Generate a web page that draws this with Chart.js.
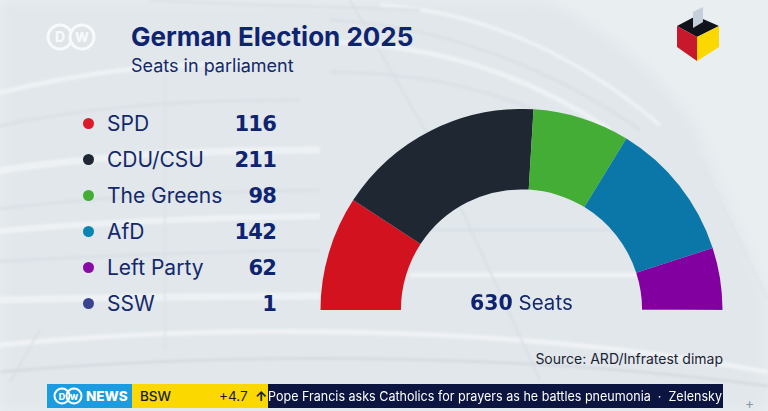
<!DOCTYPE html>
<html>
<head>
<meta charset="utf-8">
<script src="https://cdn.jsdelivr.net/npm/chart.js@4"></script>
<style>
  html, body { margin: 0; padding: 0; }
  body { width: 768px; height: 411px; overflow: hidden; position: relative; background: #e9eef1; font-family: Inter, "Noto Sans", sans-serif; color: #14296b; }
  #bg { position: absolute; left: 0; top: 0; }
  .abs { position: absolute; white-space: nowrap; }
  #chartBox { position: absolute; left: 320px; top: 109px; width: 403px; height: 201px; }
  .row { position: absolute; left: 83px; width: 193px; height: 36px; line-height: 36px; font-size: 21px; }
  .row i { position: absolute; left: 0; top: 12px; width: 11px; height: 11px; border-radius: 50%; }
  .row span { position: absolute; left: 24px; }
  .row b { position: absolute; right: 0; font-family: "DejaVu Sans"; font-size: 21px; letter-spacing: -.8px; font-weight: 700; color: #0f2470; }
</style>
</head>
<body>
<svg id="bg" width="768" height="411" fill="none">
  <defs>
    <filter id="soft"><feGaussianBlur stdDeviation="1.2"/></filter>
    <filter id="softer"><feGaussianBlur stdDeviation="7"/></filter>
  </defs>
  <path d="M0 0 H545 C 610 30 660 75 695 125 L 768 300 V411 H0 Z" fill="#e1e7eb" filter="url(#softer)"/>
  <g id="streaks" filter="url(#soft)" opacity=".75"></g>
</svg>

<svg class="abs" style="left:44px;top:20px" width="54" height="34">
  <g fill="#dfe4e9" stroke="#f7f9fa" stroke-width="3">
    <circle cx="16" cy="17" r="12"/><circle cx="38" cy="17" r="12"/>
  </g>
  <text x="16" y="22" text-anchor="middle" font-family="Inter" font-weight="800" font-size="14" fill="#f7f9fa">D</text>
  <text x="38" y="22" text-anchor="middle" font-family="Inter" font-weight="800" font-size="13" fill="#f7f9fa">W</text>
</svg>

<div class="abs" style="left:131px;top:21px;font-size:26px;line-height:32px;font-weight:700;color:#0f2470">German Election 2025</div>
<div class="abs" style="left:131px;top:54px;font-size:18px;line-height:24px">Seats in parliament</div>

<svg class="abs" style="left:670px;top:0" width="56" height="66">
  <polygon points="7,26 26,16 49,26 27,37" fill="#10131c"/>
  <polygon points="7,26 27,37 27,61 7,47" fill="#c8182c"/>
  <polygon points="27,37 49,26 49,47 27,61" fill="#fbd800"/>
  <polygon points="23,12 33,7 33,22 23,28" fill="#c5cfd9"/>
</svg>

<div id="legend"></div>

<div id="chartBox"><canvas id="seats"></canvas></div>

<div class="abs" style="left:470px;top:290px;font-size:20.5px;line-height:26px"><b style="font-family:'DejaVu Sans';font-weight:700;color:#0f2470">630</b> Seats</div>
<div class="abs" style="right:45px;top:349px;font-size:14px;line-height:20px;color:#1b2433">Source: ARD/Infratest dimap</div>

<div class="abs" style="left:47px;top:384px;width:676px;height:24px;background:#0c1440;overflow:hidden">
  <div class="abs" style="left:0;top:0;width:85px;height:24px;background:#1b9ce0"></div>
  <svg class="abs" style="left:6px;top:3px" width="32" height="18">
    <g fill="none" stroke="#fff" stroke-width="2"><circle cx="9" cy="9" r="7.5"/><circle cx="21" cy="9" r="7.5"/></g>
    <text x="9" y="12.5" text-anchor="middle" font-family="Inter" font-weight="800" font-size="9" fill="#fff">D</text>
    <text x="21" y="12.5" text-anchor="middle" font-family="Inter" font-weight="800" font-size="8" fill="#fff">W</text>
  </svg>
  <div class="abs" style="left:39px;top:0;color:#fff;font-weight:800;font-size:13.5px;line-height:24px">NEWS</div>
  <div class="abs" style="left:85px;top:0;width:136px;height:24px;background:#fbd800;color:#14202e;font-size:13.5px;line-height:24px">
    <span class="abs" style="left:8px;font-weight:500">BSW</span><span class="abs" style="left:87px">+4.7</span><span class="abs" style="left:123px;font-weight:700">↑</span>
  </div>
  <div class="abs" style="left:221px;top:0;color:#fff;font-size:13px;line-height:24px;transform:scaleX(.965);transform-origin:0 0">Pope Francis asks Catholics for prayers as he battles pneumonia &nbsp;·&nbsp; Zelensky</div>
</div>
<div class="abs" style="left:745px;top:394px;font-size:14px;line-height:18px;color:#8b96a3">+</div>

<script>
// seats per party, read from the graphic
const parties = ['SPD', 'CDU/CSU', 'The Greens', 'AfD', 'Left Party', 'SSW'];
const seats = [116, 211, 98, 142, 62, 1];
const colors = ['#d3121f', '#1f2733', '#43ad35', '#0a77a8', '#8300a0', '#38418f'];
const legendColors = ['#dc1a2a', '#1f2733', '#43ad35', '#0a84b3', '#8a0aa5', '#3a4390'];

// faint dome photo behind the chart, only a texture
const streakPaths = [
  ['M-10 95 C 90 70 170 62 260 64', '#f2f5f7', 5],
  ['M-10 128 C 80 108 170 100 300 100', '#d8dfe5', 3],
  ['M-10 172 C 80 158 170 150 320 150', '#f2f5f7', 7],
  ['M-10 210 C 90 198 180 192 320 190', '#d8dfe5', 3],
  ['M-10 232 C 90 222 190 218 320 216', '#f2f5f7', 6],
  ['M-10 262 C 90 256 190 252 320 250', '#d8dfe5', 3],
  ['M-10 300 C 90 298 190 296 320 296', '#f2f5f7', 7],
  ['M0 345 C 200 325 500 322 768 372', '#f4f6f8', 5],
  ['M0 372 C 200 354 500 350 768 386', '#d2d9df', 3],
  ['M330 20 C 430 25 540 60 640 130', '#d8dfe5', 3],
  ['M330 42 C 430 45 520 70 610 130', '#f2f5f7', 5],
  ['M330 72 C 410 72 480 85 560 120', '#d8dfe5', 3],
  ['M380 5 C 460 10 560 40 660 125', '#f2f5f7', 4],
  ['M150 0 C 250 6 330 6 420 10', '#dae1e6', 3],
  ['M420 230 H 625', '#d8dfe5', 3],
  ['M410 275 H 640', '#f2f5f7', 5],
  ['M350 0 L 425 130 L 540 380', '#d2d9df', 1.5],
  ['M165 75 L 165 350', '#d8dfe5', 1.5],
  ['M40 330 L 10 382', '#d2d9df', 1.5],
  ['M700 160 L 768 300', '#dfe5e9', 3]
];
const streaks = document.getElementById('streaks');
streakPaths.forEach(function (s) {
  const p = document.createElementNS('http://www.w3.org/2000/svg', 'path');
  p.setAttribute('d', s[0]);
  p.setAttribute('stroke', s[1]);
  p.setAttribute('stroke-width', s[2]);
  streaks.appendChild(p);
});

const legend = document.getElementById('legend');
parties.forEach(function (name, i) {
  const row = document.createElement('div');
  row.className = 'row';
  row.style.top = (105.5 + i * 36) + 'px';
  row.innerHTML = '<i style="background:' + legendColors[i] + '"></i><span>' + name + '</span><b>' + seats[i] + '</b>';
  legend.appendChild(row);
});

const chart = new Chart(document.getElementById('seats'), {
  type: 'doughnut',
  data: {
    labels: parties,
    datasets: [{
      data: seats,
      backgroundColor: colors,
      borderWidth: 0
    }]
  },
  options: {
    responsive: true,
    maintainAspectRatio: false,
    animation: false,
    rotation: -90,
    circumference: 180,
    cutout: '60%',
    layout: { padding: 0 },
    plugins: {
      legend: { display: false },
      tooltip: { enabled: false }
    }
  }
});
</script>
</body>
</html>
